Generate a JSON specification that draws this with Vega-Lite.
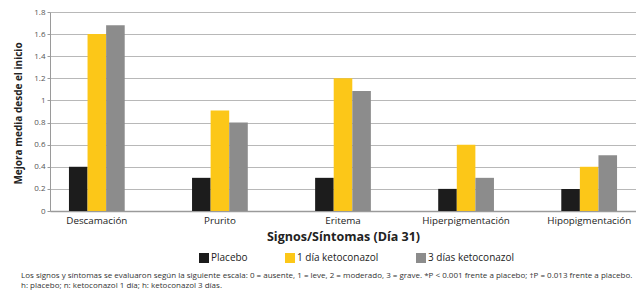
{
  "$schema": "https://vega.github.io/schema/vega-lite/v6.json",
  "width": 586,
  "height": 199,
  "autosize": {"type": "none"},
  "padding": {"left": 50, "top": 12, "right": 0, "bottom": 81},
  "background": "white",
  "data": {
    "values": [
      {"sintoma": "Descamación", "grupo": "Placebo", "valor": 0.4},
      {"sintoma": "Descamación", "grupo": "1 día ketoconazol", "valor": 1.6},
      {"sintoma": "Descamación", "grupo": "3 días ketoconazol", "valor": 1.68},
      {"sintoma": "Prurito", "grupo": "Placebo", "valor": 0.3},
      {"sintoma": "Prurito", "grupo": "1 día ketoconazol", "valor": 0.91},
      {"sintoma": "Prurito", "grupo": "3 días ketoconazol", "valor": 0.8},
      {"sintoma": "Eritema", "grupo": "Placebo", "valor": 0.3},
      {"sintoma": "Eritema", "grupo": "1 día ketoconazol", "valor": 1.2},
      {"sintoma": "Eritema", "grupo": "3 días ketoconazol", "valor": 1.085},
      {"sintoma": "Hiperpigmentación", "grupo": "Placebo", "valor": 0.2},
      {"sintoma": "Hiperpigmentación", "grupo": "1 día ketoconazol", "valor": 0.6},
      {"sintoma": "Hiperpigmentación", "grupo": "3 días ketoconazol", "valor": 0.3},
      {"sintoma": "Hipopigmentación", "grupo": "Placebo", "valor": 0.2},
      {"sintoma": "Hipopigmentación", "grupo": "1 día ketoconazol", "valor": 0.4},
      {"sintoma": "Hipopigmentación", "grupo": "3 días ketoconazol", "valor": 0.505}
    ]
  },
  "title": {
    "text": [
      "Los signos y síntomas se evaluaron según la siguiente escala: 0 = ausente, 1 = leve, 2 = moderado, 3 = grave. *P < 0.001 frente a placebo; †P = 0.013 frente a placebo.",
      "h: placebo; n: ketoconazol 1 día; h: ketoconazol 3 días."
    ],
    "orient": "bottom",
    "anchor": "start",
    "frame": "group",
    "dx": -29,
    "offset": 9,
    "font": "Open Sans",
    "fontSize": 8,
    "fontWeight": "normal",
    "lineHeight": 9.5,
    "color": "#333333"
  },
  "mark": {"type": "bar"},
  "encoding": {
    "x": {
      "field": "sintoma",
      "type": "nominal",
      "sort": ["Descamación", "Prurito", "Eritema", "Hiperpigmentación", "Hipopigmentación"],
      "scale": {"paddingInner": 0.547, "paddingOuter": 0.154},
      "axis": {
        "title": "Signos/Síntomas (Día 31)",
        "labelAngle": 0,
        "ticks": false,
        "labelPadding": 4,
        "labelFont": "Open Sans",
        "labelFontSize": 9.8,
        "labelColor": "#222222",
        "titleFont": "Open Sans",
        "titleFontSize": 12.5,
        "titleFontWeight": "bold",
        "titleColor": "#222222",
        "titlePadding": 6,
        "domainColor": "#9a9a9a",
        "domainWidth": 1.5,
        "labelOverlap": false,
        "labelBound": false
      }
    },
    "xOffset": {
      "field": "grupo",
      "type": "nominal",
      "sort": ["Placebo", "1 día ketoconazol", "3 días ketoconazol"],
      "scale": {"paddingInner": 0, "paddingOuter": 0}
    },
    "y": {
      "field": "valor",
      "type": "quantitative",
      "scale": {"domain": [0, 1.8], "nice": false},
      "axis": {
        "title": "Mejora media desde el inicio",
        "values": [0, 0.2, 0.4, 0.6, 0.8, 1, 1.2, 1.4, 1.6, 1.8],
        "format": "~g",
        "labelFont": "Open Sans",
        "labelFontSize": 8,
        "labelColor": "#555555",
        "labelPadding": 2,
        "tickSize": 3,
        "tickColor": "#9a9a9a",
        "domainColor": "#9a9a9a",
        "gridColor": "#b8b8b8",
        "gridWidth": 1,
        "titleFont": "Open Sans",
        "titleFontSize": 10,
        "titleFontWeight": "bold",
        "titleColor": "#222222",
        "titlePadding": 10,
        "titleY": 101
      }
    },
    "color": {
      "field": "grupo",
      "type": "nominal",
      "sort": ["Placebo", "1 día ketoconazol", "3 días ketoconazol"],
      "scale": {
        "domain": ["Placebo", "1 día ketoconazol", "3 días ketoconazol"],
        "range": ["#1c1c1c", "#fcc718", "#8c8c8c"]
      },
      "legend": {
        "title": null,
        "orient": "none",
        "direction": "horizontal",
        "legendX": 149,
        "legendY": 241,
        "padding": 0,
        "symbolType": "square",
        "symbolSize": 100,
        "symbolStrokeWidth": 0,
        "symbolOpacity": 1,
        "labelFont": "Open Sans",
        "labelFontSize": 10,
        "labelColor": "#222222",
        "labelOffset": 2,
        "columnPadding": 37
      }
    }
  },
  "config": {
    "view": {"stroke": null},
    "axis": {"grid": true},
    "axisX": {"grid": false}
  }
}
